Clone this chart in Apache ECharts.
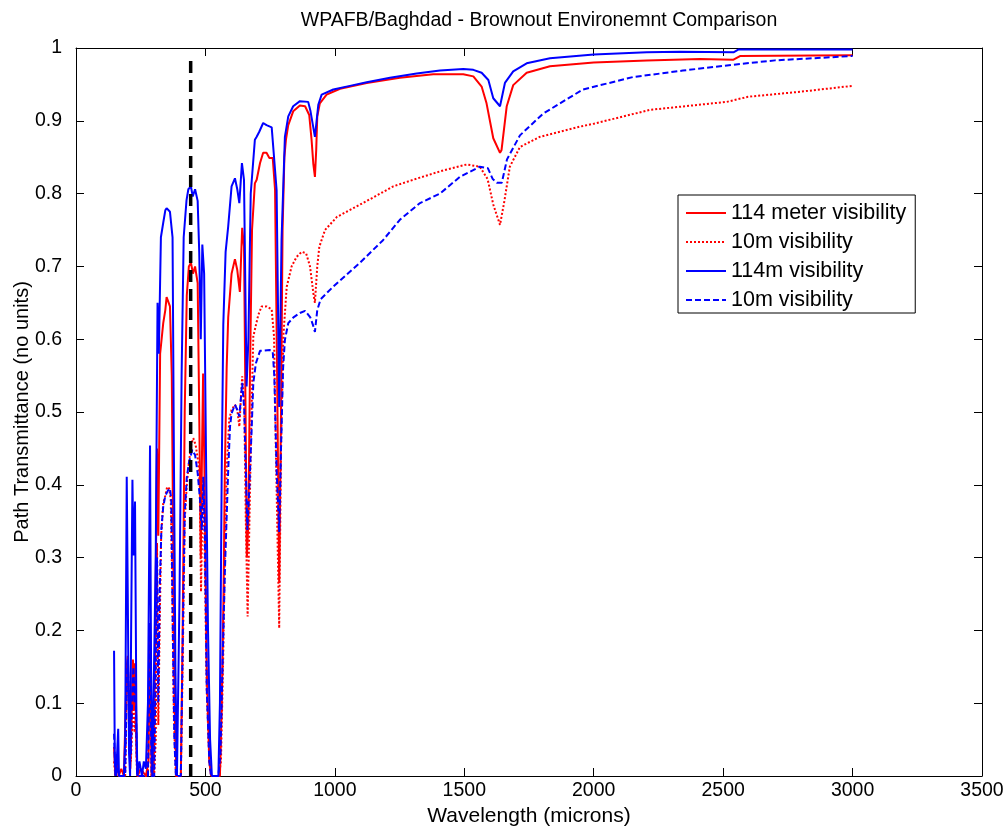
<!DOCTYPE html>
<html>
<head>
<meta charset="utf-8">
<script src="https://cdn.jsdelivr.net/npm/echarts@6/dist/echarts.min.js"></script>
<style>html,body{margin:0;padding:0;background:#fff;}#c{width:1008px;height:827px;}</style>
</head>
<body>
<div id="c"></div>
<script>
// ---- data ----
const xTicks = [0, 500, 1000, 1500, 2000, 2500, 3000, 3500];
const yTicks = [0, 0.1, 0.2, 0.3, 0.4, 0.5, 0.6, 0.7, 0.8, 0.9, 1];

const wlRed114 = [147,152,158,165,175,185,190,196,200,205,210,216,220,224,228,234,238,250,270,280,286,292,300,306,313,318,325,337,345,350,356,363,370,376,382,388,405,412,420,428,436,444,452,460,470,476,482,487,491,497,505,515,522,556,563,570,575,582,588,601,614,623,633,642,649,655,660,666,672,680,691,698,711,723,736,747,760,769,777,785,792,798,805,811,820,839,865,885,901,910,917,923,928,932,942,968,1020,1123,1251,1380,1496,1535,1567,1586,1612,1638,1644,1664,1689,1741,1831,2000,2205,2410,2540,2565,3000];
const tRed114 = [0.04,0,0.03,0,0.01,0,0,0.15,0.165,0.1,0.01,0.1,0.16,0.09,0.155,0.03,0,0.01,0,0.02,0.21,0,0,0.2,0.45,0.33,0.58,0.622,0.64,0.658,0.652,0.645,0.55,0.3,0.08,0,0,0.2,0.5,0.66,0.7,0.705,0.69,0.70,0.677,0.5,0.3,0.45,0.553,0.4,0.15,0.02,0,0,0.1,0.25,0.42,0.56,0.63,0.69,0.71,0.695,0.665,0.753,0.727,0.5,0.3,0.35,0.55,0.75,0.814,0.819,0.842,0.856,0.856,0.849,0.849,0.805,0.55,0.265,0.5,0.75,0.85,0.874,0.894,0.913,0.921,0.92,0.908,0.874,0.84,0.823,0.86,0.906,0.924,0.936,0.944,0.952,0.959,0.964,0.964,0.961,0.947,0.924,0.876,0.856,0.86,0.92,0.949,0.966,0.975,0.98,0.983,0.985,0.984,0.989,0.99];

const wlRed10 = [147,152,158,165,190,196,200,206,212,218,222,226,230,236,278,286,292,302,308,313,318,323,329,337,345,352,360,366,372,378,386,405,412,420,428,436,445,453,462,473,478,483,490,496,505,515,522,552,560,568,575,582,592,601,614,623,631,642,650,656,663,670,678,685,704,717,736,756,765,772,785,792,801,814,833,852,872,889,904,917,923,932,940,962,1008,1124,1226,1329,1420,1510,1560,1590,1612,1638,1655,1676,1715,1792,1947,2000,2217,2514,2596,2800,3000];
const tRed10 = [0.02,0,0.01,0,0,0.12,0.14,0.05,0.02,0.08,0.11,0.06,0.08,0,0,0.2,0,0,0.05,0.32,0.07,0.2,0.33,0.375,0.385,0.397,0.395,0.38,0.25,0.08,0,0,0.15,0.35,0.4,0.43,0.455,0.464,0.455,0.43,0.4,0.253,0.41,0.33,0.12,0.02,0,0,0.02,0.15,0.3,0.42,0.49,0.503,0.51,0.503,0.48,0.549,0.51,0.35,0.219,0.35,0.5,0.604,0.633,0.645,0.645,0.641,0.604,0.45,0.203,0.45,0.604,0.672,0.70,0.713,0.72,0.718,0.70,0.663,0.65,0.70,0.727,0.75,0.768,0.79,0.81,0.822,0.832,0.84,0.837,0.82,0.785,0.757,0.79,0.837,0.864,0.878,0.892,0.896,0.915,0.926,0.933,0.94,0.948];

const wlBlue114 = [147,150,155,160,163,166,185,190,196,200,205,209,213,218,222,228,233,237,245,255,262,270,278,286,290,295,302,308,315,320,328,337,345,350,356,363,373,378,384,390,394,400,408,416,427,434,444,451,460,470,476,482,488,495,502,510,518,525,550,556,563,569,578,588,601,614,623,631,641,649,659,666,675,691,698,708,723,736,756,762,775,785,794,807,820,839,865,897,906,923,936,949,994,1058,1123,1213,1316,1406,1496,1535,1567,1593,1612,1638,1657,1689,1741,1831,2000,2205,2333,2540,2560,3000];
const tBlue114 = [0.172,0.02,0,0,0.065,0,0,0.05,0.411,0.25,0.03,0,0.2,0.407,0.303,0.377,0.1,0,0.02,0,0.02,0.01,0.1,0.454,0.15,0,0,0.3,0.65,0.58,0.74,0.76,0.777,0.78,0.778,0.775,0.74,0.45,0.15,0,0,0.25,0.55,0.74,0.791,0.806,0.81,0.796,0.806,0.79,0.72,0.6,0.73,0.69,0.45,0.2,0.05,0,0,0.1,0.42,0.62,0.72,0.755,0.81,0.821,0.806,0.787,0.842,0.819,0.535,0.6,0.8,0.874,0.878,0.885,0.897,0.894,0.891,0.89,0.805,0.507,0.736,0.878,0.906,0.92,0.927,0.926,0.913,0.878,0.922,0.936,0.943,0.948,0.953,0.959,0.965,0.969,0.971,0.97,0.966,0.956,0.931,0.92,0.952,0.968,0.979,0.986,0.991,0.994,0.995,0.994,0.998,0.998];

const wlBlue10 = [147,152,158,165,190,196,200,206,212,218,222,226,230,236,278,286,292,302,306,313,318,323,330,337,345,355,363,368,374,380,386,405,412,420,428,436,449,460,470,479,486,492,498,505,515,522,550,558,566,575,588,595,601,614,623,631,642,650,656,662,670,678,685,695,711,749,760,766,775,785,792,800,807,820,840,865,885,905,915,923,932,945,993,1097,1186,1251,1329,1406,1483,1560,1591,1610,1626,1645,1665,1715,1766,1805,1958,2151,2344,2538,2700,3000];
const tBlue10 = [0.058,0,0.02,0,0,0.13,0.16,0.08,0.03,0.12,0.15,0.1,0.13,0,0,0.21,0,0,0.1,0.3,0.1,0.25,0.34,0.37,0.385,0.392,0.395,0.38,0.2,0.05,0,0,0.18,0.36,0.41,0.43,0.448,0.441,0.416,0.38,0.338,0.411,0.33,0.12,0.02,0,0,0.03,0.15,0.28,0.42,0.48,0.498,0.51,0.503,0.494,0.54,0.503,0.42,0.338,0.4,0.471,0.54,0.567,0.584,0.585,0.583,0.55,0.42,0.335,0.45,0.56,0.599,0.622,0.63,0.636,0.639,0.63,0.62,0.61,0.64,0.655,0.672,0.705,0.736,0.764,0.787,0.80,0.823,0.837,0.835,0.82,0.815,0.815,0.847,0.88,0.897,0.91,0.943,0.96,0.969,0.977,0.983,0.989];

const markerWl = [443, 443];
const markerT = [0, 0.99];

const names = ['114 meter visibility', '10m visibility', '114m visibility', '10m visibility '];

function pairs(xs, ys) { return xs.map((x, i) => [x, ys[i]]); }

const FONT = "'Liberation Sans', Arial, sans-serif";
const chart = echarts.init(document.getElementById('c'), null, {renderer: 'canvas'});

const axisCommon = {
  axisLine: {show: true, onZero: false, lineStyle: {color: '#000', width: 1}},
  axisTick: {show: true, inside: true, length: 8, lineStyle: {color: '#000'}},
  splitLine: {show: false}
};

chart.setOption({
  animation: false,
  backgroundColor: '#fff',
  grid: {left: 76, right: 26, top: 48, bottom: 51, containLabel: false, outerBoundsMode: 'none'},
  graphic: [{
    type: 'text', x: 539, y: 21,
    style: {text: 'WPAFB/Baghdad - Brownout Environemnt Comparison', font: '19.5px ' + FONT, fill: '#000', textAlign: 'center', textVerticalAlign: 'middle'}
  }],
  legend: {
    orient: 'vertical', left: 678, top: 195,
    data: names,
    formatter: n => n.trim(),
    itemWidth: 40, itemHeight: 14, itemGap: 7,
    padding: [7, 9, 2, 7],
    itemStyle: {opacity: 0, borderWidth: 0},
    borderColor: '#000', borderWidth: 1, backgroundColor: '#fff',
    textStyle: {fontFamily: FONT, fontSize: 21.5, color: '#000'},
    selectedMode: false
  },
  xAxis: [
    Object.assign({}, axisCommon, {
      type: 'value', position: 'bottom', min: 0, max: 3500, interval: 500,
      axisLabel: {color: '#000', fontFamily: FONT, fontSize: 19.5, margin: 5, formatter: v => xTicks.includes(v) ? String(v) : ''},
      name: 'Wavelength (microns)', nameLocation: 'middle', nameGap: 30, nameMoveOverlap: false,
      nameTextStyle: {color: '#000', fontFamily: FONT, fontSize: 21}
    }),
    Object.assign({}, axisCommon, {
      type: 'value', position: 'top', min: 0, max: 3500, interval: 500,
      axisLabel: {show: false}
    })
  ],
  yAxis: [
    Object.assign({}, axisCommon, {
      type: 'value', position: 'left', min: 0, max: 1, interval: 0.1,
      axisLabel: {color: '#000', fontFamily: FONT, fontSize: 19.5, margin: 14,
        formatter: v => { const t = yTicks.find(k => Math.abs(k - v) < 1e-9); return t === undefined ? '' : (t === 0 || t === 1 ? String(t) : t.toFixed(1)); }},
      name: 'Path Transmittance (no units)', nameLocation: 'middle', nameGap: 44, nameMoveOverlap: false,
      nameTextStyle: {color: '#000', fontFamily: FONT, fontSize: 20}
    }),
    Object.assign({}, axisCommon, {
      type: 'value', position: 'right', min: 0, max: 1, interval: 0.1,
      axisLabel: {show: false}
    })
  ],
  series: [
    {name: names[0], type: 'line', data: pairs(wlRed114, tRed114), showSymbol: false, symbol: 'none',
     lineStyle: {color: '#ff0000', width: 2, type: 'solid'}, itemStyle: {color: '#ff0000'}, z: 3},
    {name: names[1], type: 'line', data: pairs(wlRed10, tRed10), showSymbol: false, symbol: 'none',
     lineStyle: {color: '#ff0000', width: 2, type: [2, 2]}, itemStyle: {color: '#ff0000'}, z: 3},
    {name: names[2], type: 'line', data: pairs(wlBlue114, tBlue114), showSymbol: false, symbol: 'none',
     lineStyle: {color: '#0000ff', width: 2, type: 'solid'}, itemStyle: {color: '#0000ff'}, z: 3},
    {name: names[3], type: 'line', data: pairs(wlBlue10, tBlue10), showSymbol: false, symbol: 'none',
     lineStyle: {color: '#0000ff', width: 2, type: [6, 3]}, itemStyle: {color: '#0000ff'}, z: 3},
    {name: 'marker', type: 'line', data: pairs(markerWl, markerT), showSymbol: false, symbol: 'none',
     lineStyle: {color: '#000', width: 3.5, type: [12, 7]}, z: 4}
  ]
});
</script>
</body>
</html>
